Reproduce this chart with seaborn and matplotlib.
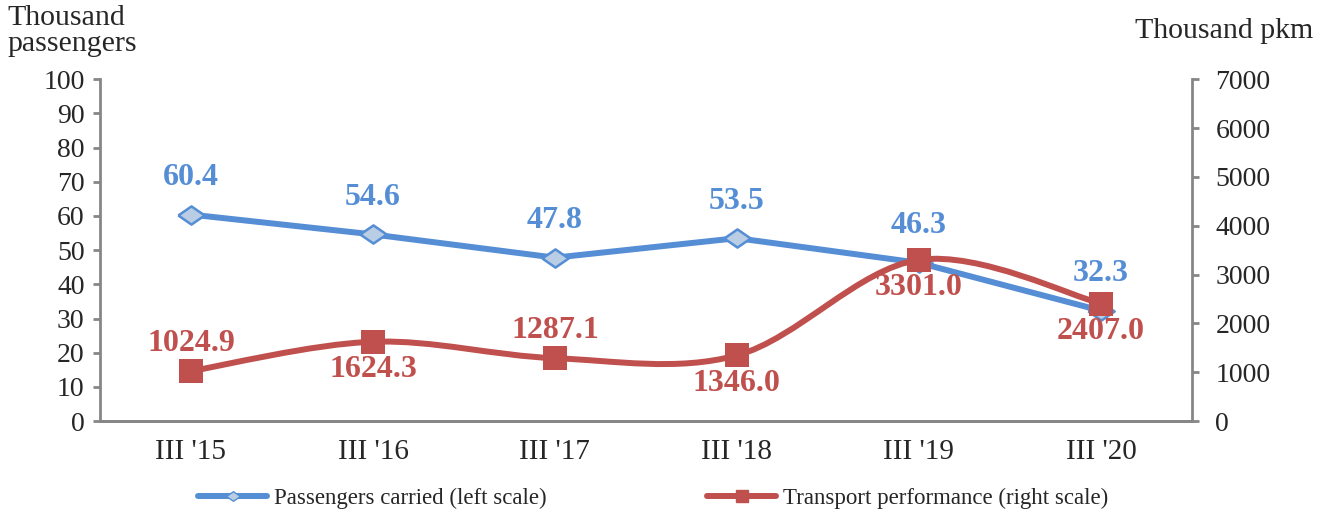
import numpy as np
import pandas as pd
import matplotlib
matplotlib.use("Agg")
import matplotlib.pyplot as plt
from matplotlib.path import Path
from matplotlib.patches import PathPatch
from matplotlib.lines import Line2D
import seaborn as sns

periods = ["III '15", "III '16", "III '17", "III '18", "III '19", "III '20"]
passengers = [60.4, 54.6, 47.8, 53.5, 46.3, 32.3]
performance = [1024.9, 1624.3, 1287.1, 1346.0, 3301.0, 2407.0]
# where the red labels sit: +1 above the marker, -1 below it
perf_label_side = [1, -1, 1, -1, -1, -1]

BLUE = "#558ED5"
BLUE_FACE = "#B9CDE5"
RED = "#C0504D"
GRAY = "#868686"

sns.set_style("white")
plt.rcParams["font.family"] = ["Liberation Serif", "DejaVu Serif"]

df = pd.DataFrame({"period": periods, "x": np.arange(len(periods)),
                   "passengers": passengers, "performance": performance})

fig = plt.figure(figsize=(13.17, 5.11), dpi=100)
ax = fig.add_axes([0.0759, 0.176, 0.8291, 0.669])
ax2 = ax.twinx()

diamond = [(-1.45, 0), (0, 1), (1.45, 0), (0, -1), (-1.45, 0)]

# left scale: passengers
sns.lineplot(data=df, x="x", y="passengers", ax=ax, color=BLUE, lw=4.3,
             marker=diamond, markersize=19, markerfacecolor=BLUE_FACE,
             markeredgecolor=BLUE, markeredgewidth=1.8, zorder=3)

# right scale: smoothed line (Excel-style Catmull-Rom bezier through the points)
xs = df["x"].to_numpy(dtype=float)
ys = df["performance"].to_numpy(dtype=float)
pts = np.column_stack([xs, ys])
verts = [pts[0]]
codes = [Path.MOVETO]
for i in range(len(pts) - 1):
    p_prev = pts[i - 1] if i > 0 else pts[i]
    p_next2 = pts[i + 2] if i + 2 < len(pts) else pts[i + 1]
    c1 = pts[i] + (pts[i + 1] - p_prev) / 6
    c2 = pts[i + 1] - (p_next2 - pts[i]) / 6
    verts += [c1, c2, pts[i + 1]]
    codes += [Path.CURVE4] * 3
ax2.add_patch(PathPatch(Path(verts, codes), fill=False, edgecolor=RED,
                        lw=4.3, zorder=4, capstyle="round"))
sns.scatterplot(data=df, x="x", y="performance", ax=ax2, marker="s", s=300,
                color=RED, edgecolor=RED, linewidth=0, zorder=5)

ax.set_xlim(-0.5, len(periods) - 0.5)
ax.set_ylim(0, 100)
ax2.set_ylim(0, 7000)
ax.set_yticks(range(0, 101, 10))
ax2.set_yticks(range(0, 7001, 1000))
ax.set_xticks(df["x"])
ax.set_xticklabels(periods)
ax.set_xlabel("")
ax.set_ylabel("")
ax2.set_ylabel("")

for a in (ax, ax2):
    for side in ("left", "right", "bottom", "top"):
        a.spines[side].set_color(GRAY)
        a.spines[side].set_linewidth(2)
    a.spines["top"].set_visible(False)
ax.spines["right"].set_visible(False)
ax2.spines["left"].set_visible(False)

ax.tick_params(axis="y", which="both", left=True, length=5, width=2, color=GRAY,
               labelsize=20, pad=6, direction="out")
ax.tick_params(axis="x", length=0, labelsize=21, pad=13)
ax2.tick_params(axis="y", right=True, length=5, width=2, color=GRAY,
                labelsize=20, pad=12, direction="out")

for xi, v in zip(xs, passengers):
    ax.annotate(f"{v:.1f}", (xi, v), xytext=(0, 37), textcoords="offset pixels",
                ha="center", va="center", fontsize=23, fontweight="bold",
                color=BLUE, zorder=6)
for xi, v, side in zip(xs, performance, perf_label_side):
    ax2.annotate(f"{v:.1f}", (xi, v), xytext=(0, 28 * side), textcoords="offset pixels",
                 ha="center", va="center", fontsize=23, fontweight="bold",
                 color=RED, zorder=6)

fig.text(0.006, 0.99, "Thousand\npassengers", ha="left", va="top",
         fontsize=21.5, linespacing=1.0)
fig.text(0.997, 0.94, "Thousand pkm", ha="right", va="center", fontsize=21.5)

handles = [
    Line2D([], [], color=BLUE, lw=4.3, marker=diamond, markersize=10,
           markerfacecolor=BLUE_FACE, markeredgecolor=BLUE),
    Line2D([], [], color=RED, lw=4.3, marker="s", markersize=8,
           markerfacecolor=RED, markeredgecolor=RED),
]
fig.legend(handles, ["Passengers carried (left scale)", "Transport performance (right scale)"],
           loc="center", bbox_to_anchor=(0.496, 0.025), ncol=2, frameon=False,
           fontsize=16.5, handlelength=3.0, handletextpad=0.3, columnspacing=7.0)

fig.savefig("out.png", dpi=100)
